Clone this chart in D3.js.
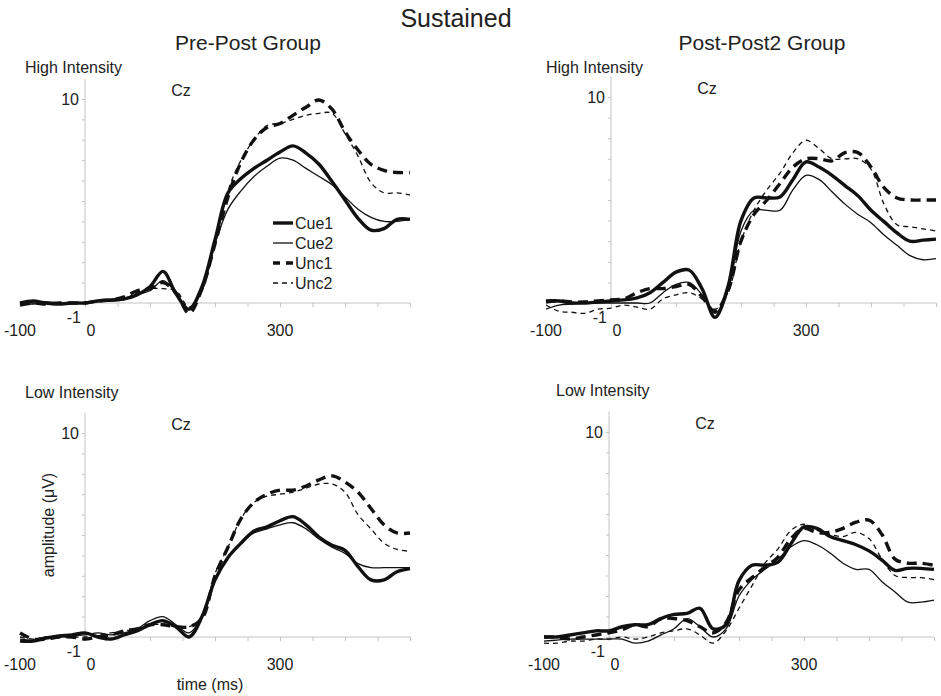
<!DOCTYPE html>
<html><head><meta charset="utf-8">
<script src="https://cdn.jsdelivr.net/npm/d3@7"></script>
<style>body{margin:0;background:#fff}text{font-family:Arial,"Liberation Sans",sans-serif;fill:#222}</style>
</head><body><svg id="c" width="941" height="696"></svg>
<script>
const times = [-100,-80,-60,-40,-20,0,20,40,60,80,100,120,140,160,180,200,220,240,260,280,300,320,340,360,380,400,420,440,460,480,500];
const seriesNames = ["Cue1","Cue2","Unc1","Unc2"];

const preHighCue1 = [0,0.1,0,-0.05,0,0,0.1,0.15,0.2,0.4,0.8,1.55,0.45,-0.3,0.8,3.1,5.4,6.1,6.6,7.0,7.4,7.7,7.35,6.8,5.95,5.05,4.15,3.57,3.65,4.1,4.1];
const preHighCue2 = [0,-0.05,0.05,0,0,0,0.1,0.1,0.15,0.4,0.6,1.1,0.5,-0.3,0.6,2.9,4.6,5.5,6.2,6.7,7.1,7.0,6.6,6.2,5.8,5.2,4.6,4.2,4.0,4.0,4.1];
const preHighUnc1 = [-0.1,0,-0.05,0,0,0,0.1,0.15,0.3,0.6,0.7,1.0,0.5,-0.5,0.7,2.9,5.2,6.9,8.0,8.6,8.8,9.2,9.6,9.95,9.5,8.4,7.5,6.8,6.5,6.4,6.4];
const preHighUnc2 = [0,0,-0.05,0,0,0,0.1,0.1,0.2,0.5,0.7,0.7,0.6,-0.2,0.6,2.9,5.5,7.0,8.0,8.7,8.8,9.0,9.2,9.3,9.3,8.3,7.2,5.9,5.4,5.4,5.3];

const postHighCue1 = [0.1,0.1,0,0,0.05,0.1,0.15,0.25,0.5,1.0,1.5,1.6,0.7,-0.7,0.8,4.0,5.1,5.1,5.15,6.0,6.85,6.6,6.2,5.7,5.2,4.5,3.95,3.4,3.0,3.05,3.1];
const postHighCue2 = [-0.3,-0.1,-0.05,0,0,0,0,0,0,0.5,0.9,1.0,0.4,-0.5,0.6,3.5,4.5,4.5,4.5,5.5,6.2,6.0,5.4,4.8,4.3,3.9,3.3,2.8,2.3,2.1,2.15];
const postHighUnc1 = [0.05,0.1,0.05,0.05,0.1,0.15,0.2,0.5,0.7,0.7,0.8,0.9,0.3,-0.4,0.6,3.0,4.3,5.0,5.8,6.6,7.0,7.0,6.9,7.3,7.3,6.6,5.6,5.1,5.0,5.0,5.0];
const postHighUnc2 = [-0.1,-0.4,-0.45,-0.5,-0.3,-0.25,-0.1,-0.2,-0.3,0.2,0.4,0.5,0.2,-0.3,0.5,3.0,4.5,5.5,6.3,7.3,7.9,7.5,7.0,7.0,7.0,6.5,4.8,3.8,3.7,3.6,3.5];

const preLowCue1 = [-0.2,-0.2,-0.05,0.05,0.1,0.2,0,-0.1,0.1,0.3,0.6,0.8,0.5,0,1.0,2.8,3.9,4.6,5.2,5.4,5.7,5.9,5.5,4.9,4.5,4.25,3.45,2.8,2.8,3.2,3.35];
const preLowCue2 = [-0.1,-0.15,0,0,0.05,0.1,0.2,0.1,0.2,0.4,0.8,1.0,0.6,0.2,1.0,2.8,3.9,4.6,5.1,5.3,5.5,5.6,5.3,4.8,4.4,4.1,3.6,3.4,3.4,3.4,3.4];
const preLowUnc1 = [0.2,-0.1,-0.1,0,0,-0.1,0,0.1,0.3,0.4,0.6,0.6,0.5,0.5,0.9,3.0,4.4,5.8,6.6,7.0,7.2,7.2,7.4,7.7,7.9,7.6,7.1,6.3,5.5,5.1,5.1];
const preLowUnc2 = [0,-0.1,0,0,0,0,0.1,0.2,0.3,0.4,0.6,0.6,0.5,0.5,1.0,3.1,4.4,5.8,6.6,6.9,7.0,7.1,7.3,7.5,7.5,7.1,6.0,5.3,4.6,4.3,4.2];

const postLowCue1 = [0,0,0.1,0.2,0.3,0.3,0.5,0.6,0.6,0.9,1.1,1.15,1.4,0.4,0.6,2.75,3.5,3.5,3.65,4.55,5.37,5.3,4.9,4.7,4.5,4.2,3.75,3.25,3.35,3.35,3.3];
const postLowCue2 = [-0.2,-0.15,-0.1,-0.1,-0.1,-0.1,-0.1,-0.3,-0.2,0.1,0.4,0.9,0.5,0,0.4,2.0,2.8,3.3,3.8,4.4,4.7,4.5,4.1,3.6,3.3,3.3,2.7,2.2,1.7,1.7,1.8];
const postLowUnc1 = [0,0,-0.1,0,0.1,0.2,0.35,0.6,0.5,0.9,0.9,0.8,0.5,0.2,0.7,2.3,2.9,3.4,3.9,4.8,5.3,5.1,5.1,5.3,5.6,5.7,5.0,3.8,3.6,3.6,3.5];
const postLowUnc2 = [-0.3,-0.3,-0.2,-0.2,-0.1,-0.1,0,-0.1,0,0.2,0.3,0.4,0.1,-0.3,0.3,1.4,2.5,3.6,4.3,5.2,5.5,5.2,5.0,4.9,5.1,4.8,3.8,3.0,2.9,2.9,2.8];

const styles = {
  Cue1: {w: 3.4, dash: null},
  Cue2: {w: 1.3, dash: null},
  Unc1: {w: 3.4, dash: "10,6"},
  Unc2: {w: 1.3, dash: "5,4"}
};

const panels = [
  {label: "High Intensity", x0: 20, x1: 410, y0: 303, y10: 99, lx: 25, ly: 73, legend: true,
   vals: [preHighCue1, preHighCue2, preHighUnc1, preHighUnc2]},
  {label: "High Intensity", x0: 546, x1: 936, y0: 303, y10: 97, lx: 546, ly: 73,
   vals: [postHighCue1, postHighCue2, postHighUnc1, postHighUnc2]},
  {label: "Low Intensity", x0: 20, x1: 410, y0: 637, y10: 433, lx: 25, ly: 398, ylab: true,
   vals: [preLowCue1, preLowCue2, preLowUnc1, preLowUnc2]},
  {label: "Low Intensity", x0: 544, x1: 934, y0: 637, y10: 432, lx: 556, ly: 396,
   vals: [postLowCue1, postLowCue2, postLowUnc1, postLowUnc2]}
];

const svg = d3.select("#c");
svg.append("text").attr("x", 456).attr("y", 27).attr("text-anchor", "middle").attr("font-size", 25).text("Sustained");
svg.append("text").attr("x", 248).attr("y", 50).attr("text-anchor", "middle").attr("font-size", 21).text("Pre-Post Group");
svg.append("text").attr("x", 762).attr("y", 50).attr("text-anchor", "middle").attr("font-size", 21).text("Post-Post2 Group");

panels.forEach(p => {
  const x = d3.scaleLinear().domain([-100, 500]).range([p.x0, p.x1]);
  const y = d3.scaleLinear().domain([0, 10]).range([p.y0, p.y10]);
  const g = svg.append("g");

  g.append("text").attr("x", p.lx).attr("y", p.ly).attr("font-size", 16).text(p.label);

  // axes
  g.append("g").attr("transform", `translate(0,${p.y0})`)
    .call(d3.axisBottom(x).tickValues(d3.range(0, 501, 50)).tickSize(4).tickFormat(""))
    .call(a => a.select(".domain").attr("d", `M${x(0)},0H${x(500)}`))
    .call(a => a.selectAll("line,path").attr("stroke", "#c4c4c4"));
  g.append("g").attr("transform", `translate(${x(0)},0)`)
    .call(d3.axisLeft(y).tickValues(d3.range(0, 11, 1)).tickSize(3).tickFormat(""))
    .call(a => a.select(".domain").attr("d", `M0,${y(11)}V${y(0)}`))
    .call(a => a.selectAll("line,path").attr("stroke", "#c4c4c4"));

  g.append("text").attr("x", x(0) - 6).attr("y", y(10) + 6).attr("text-anchor", "end").attr("font-size", 16).text("10");
  g.append("text").attr("x", x(0) - 4).attr("y", p.y0 + 20).attr("text-anchor", "end").attr("font-size", 16).text("-1");
  [[-100, 0], [0, 6], [300, 0]].forEach(([t, dx]) =>
    g.append("text").attr("x", x(t) + dx).attr("y", p.y0 + 33).attr("text-anchor", "middle").attr("font-size", 16).text(t));
  g.append("text").attr("x", x(0) + 96).attr("y", y(10) - 3).attr("text-anchor", "middle").attr("font-size", 16).text("Cz");

  const line = d3.line().x((d, i) => x(times[i])).y(d => y(d)).curve(d3.curveCatmullRom.alpha(0.5));
  p.vals.forEach((v, k) => {
    const s = styles[seriesNames[k]];
    g.append("path").attr("d", line(v)).attr("fill", "none").attr("stroke", "#111")
      .attr("stroke-width", s.w).attr("stroke-dasharray", s.dash);
  });

  if (p.legend) {
    seriesNames.forEach((n, k) => {
      const s = styles[n], ly = 223 + k * 20;
      g.append("line").attr("x1", 273).attr("x2", 293).attr("y1", ly).attr("y2", ly)
        .attr("stroke", "#111").attr("stroke-width", s.w).attr("stroke-dasharray", n === "Unc1" ? "7,6" : s.dash);
      g.append("text").attr("x", 295).attr("y", ly + 6).attr("font-size", 16).text(n);
    });
  }
  if (p.ylab) {
    g.append("text").attr("transform", `translate(54,${525}) rotate(-90)`).attr("text-anchor", "middle").attr("font-size", 16).text("amplitude (\u03bcV)");
    g.append("text").attr("x", 210).attr("y", 690).attr("text-anchor", "middle").attr("font-size", 16).text("time (ms)");
  }
});
</script></body></html>
